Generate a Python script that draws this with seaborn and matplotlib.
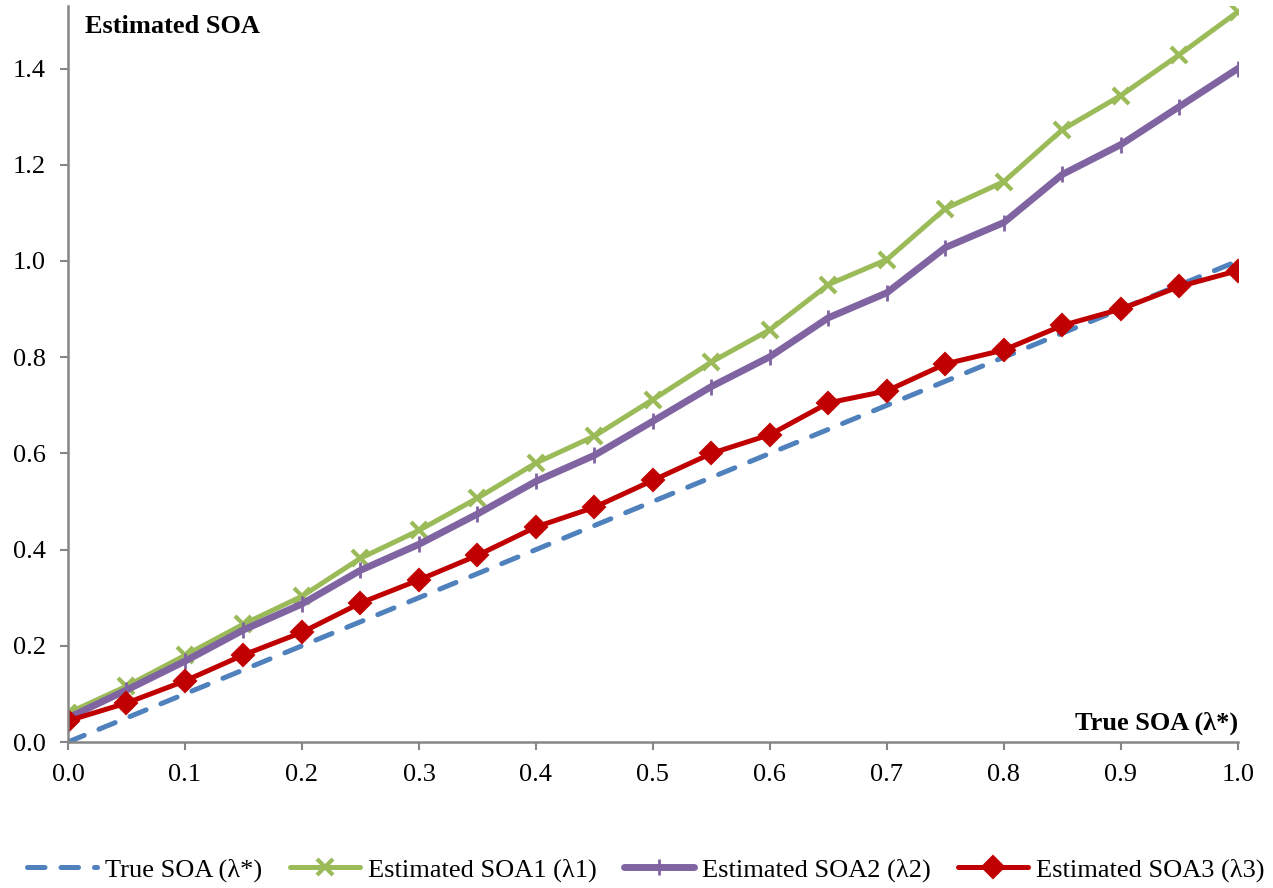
import matplotlib
matplotlib.use('Agg')
import matplotlib.pyplot as plt
import seaborn as sns
import pandas as pd
import numpy as np

# valores
true_soa = [0.0, 0.05, 0.1, 0.15, 0.2, 0.25, 0.3, 0.35, 0.4, 0.45, 0.5,
            0.55, 0.6, 0.65, 0.7, 0.75, 0.8, 0.85, 0.9, 0.95, 1.0]
soa1 = [0.060, 0.116, 0.180, 0.245, 0.303, 0.382, 0.440, 0.507, 0.580, 0.636, 0.712,
        0.790, 0.857, 0.951, 1.003, 1.109, 1.165, 1.273, 1.344, 1.429, 1.518]
soa2 = [0.050, 0.108, 0.168, 0.233, 0.287, 0.357, 0.411, 0.474, 0.542, 0.596, 0.667,
        0.739, 0.801, 0.882, 0.934, 1.028, 1.080, 1.180, 1.242, 1.321, 1.400]
soa3 = [0.044, 0.081, 0.127, 0.181, 0.228, 0.289, 0.337, 0.388, 0.447, 0.488, 0.544,
        0.600, 0.639, 0.705, 0.730, 0.786, 0.815, 0.866, 0.900, 0.947, 0.980]

labels = ['True SOA (λ*)', 'Estimated SOA1 (λ1)', 'Estimated SOA2 (λ2)', 'Estimated SOA3 (λ3)']
xticks = [0.0, 0.1, 0.2, 0.3, 0.4, 0.5, 0.6, 0.7, 0.8, 0.9, 1.0]
yticks = [0.0, 0.2, 0.4, 0.6, 0.8, 1.0, 1.2, 1.4]

df = pd.DataFrame({'x': true_soa, labels[0]: true_soa, labels[1]: soa1,
                   labels[2]: soa2, labels[3]: soa3})

sns.set_style('white')
plt.rcParams['font.family'] = ['Liberation Serif', 'DejaVu Serif']
plt.rcParams['text.color'] = 'black'
fs = 19

fig = plt.figure(figsize=(12.73, 8.88), dpi=100)
ax = fig.add_axes([0.0534, 0.1644, 0.919, 0.8288])

sns.lineplot(data=df, x='x', y=labels[0], ax=ax, color='#4F81BD', lw=3.6,
             linestyle=(0, (3.5, 3.2)), dash_capstyle='round', label=labels[0])
sns.lineplot(data=df, x='x', y=labels[1], ax=ax, color='#9BBB59', lw=3.6,
             marker='x', markersize=12, mew=3, mec='#9BBB59', label=labels[1])
sns.lineplot(data=df, x='x', y=labels[2], ax=ax, color='#8064A2', lw=5,
             marker='|', markersize=11, mew=2, mec='#8064A2', label=labels[2])
sns.lineplot(data=df, x='x', y=labels[3], ax=ax, color='#C00000', lw=3.6,
             marker='D', markersize=11.5, mew=1.5, mec='#C00000', label=labels[3])

ax.set_xlim(0, 1.0)
ax.set_ylim(0, 1.53)
ax.set_xticks(xticks)
ax.set_yticks(yticks)
ax.set_xticklabels([f'{v:.1f}' for v in xticks])
ax.set_yticklabels([f'{v:.1f}' for v in yticks])
ax.set_xlabel('')
ax.set_ylabel('')
ax.tick_params(axis='both', labelsize=fs, length=6, width=1.5, color='#868686',
               labelcolor='black', direction='out', bottom=True, left=True, pad=10)
for s in ['top', 'right']:
    ax.spines[s].set_visible(False)
for s in ['left', 'bottom']:
    ax.spines[s].set_color('#868686')
    ax.spines[s].set_linewidth(1.8)

ax.text(0.0145, 1.473, 'Estimated SOA', fontsize=fs, fontweight='bold',
        ha='left', va='baseline', color='black')
ax.text(1.0, 0.025, 'True SOA (λ*)', fontsize=fs, fontweight='bold',
        ha='right', va='baseline', color='black')

ax.legend().remove()
handles, lbls = ax.get_legend_handles_labels()
leg = fig.legend(handles, lbls, loc='center', bbox_to_anchor=(646 / 1273, 1 - 870 / 888),
                 ncol=4, frameon=False, fontsize=fs, handlelength=2.65,
                 columnspacing=1.05, handletextpad=0.3)
for t in leg.get_texts():
    t.set_color('black')

fig.savefig('out.png', dpi=100)
